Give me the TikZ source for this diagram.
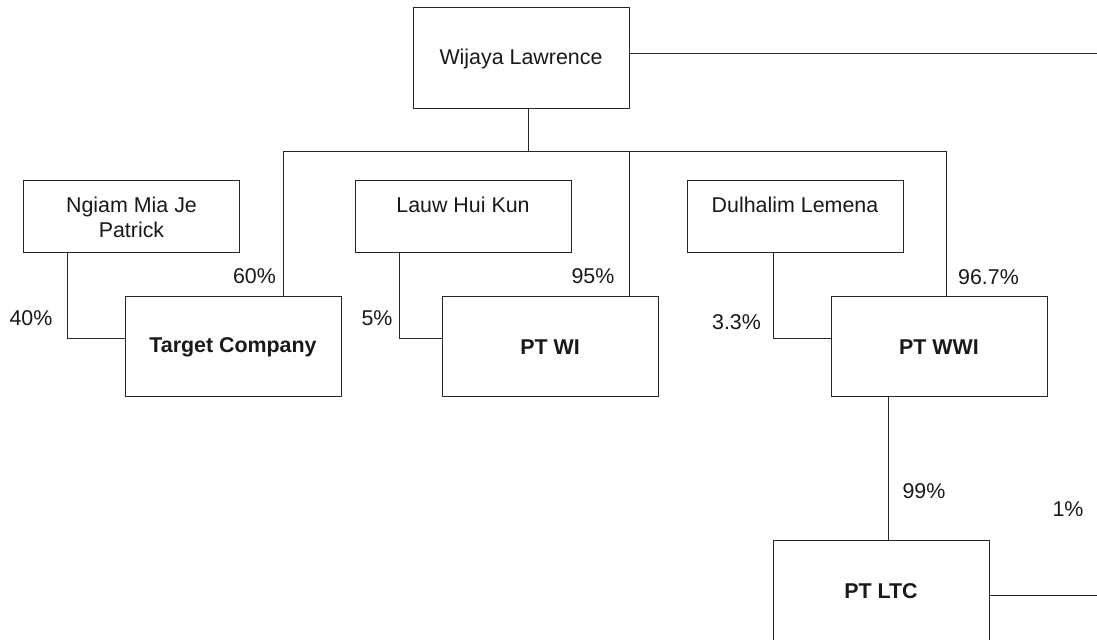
\documentclass[tikz,border=0pt]{standalone}
\usepackage{fontspec}
\setmainfont{Liberation Sans}
\begin{document}
\begin{tikzpicture}[x=0.5pt,y=-0.5pt,black!85,line width=.5pt,
  font=\fontsize{10.7}{12.5}\selectfont,
  owner/.style={draw,text=black!90,minimum width=108pt,minimum height=36pt,align=center,inner sep=0pt},
  firm/.style={draw,text=black!90,minimum width=108pt,minimum height=50pt,align=center,inner sep=0pt,font=\fontsize{10.7}{12.5}\selectfont\bfseries},
  share/.style={text=black!90,inner sep=0pt}]
\useasboundingbox (0,0) rectangle (1097,640);
% owners
\node[firm,font=\fontsize{10.7}{12.5}\selectfont,minimum height=50.5pt] (wl) at (521,58.5) {Wijaya Lawrence};
\node[owner] (ngiam) at (131.5,217) {Ngiam Mia Je\\Patrick};
\node[owner] (lauw) at (463,217) {Lauw Hui Kun\\\phantom{Patrick}};
\node[owner] (dul) at (795,217) {Dulhalim Lemena\\\phantom{Patrick}};
% companies
\node[firm] (tc) at (233,347) {Target Company};
\node[firm] (wi) at (550,347) {PT WI};
\node[firm] (wwi) at (939,347) {PT WWI};
\node[firm] (ltc) at (881,591) {PT LTC};
% bus from Wijaya Lawrence
\coordinate (bus) at (528,152);
\coordinate (busL) at (283,152);
\coordinate (busM) at (629,152);
\coordinate (busR) at (946,152);
\draw (bus |- wl.south) -- (bus);
\draw (busL |- tc.north) -- (busL) -- (busR) -- (busR |- wwi.north);
\draw (busM) -- (busM |- wi.north);
\coordinate (eW) at (1097,54);
\draw (eW -| wl.east) -- (eW);
% minority holders
\coordinate (kn) at (67,339);
\draw (kn |- ngiam.south) -- (kn) -- (kn -| tc.west);
\coordinate (kl) at (399,339);
\draw (kl |- lauw.south) -- (kl) -- (kl -| wi.west);
\coordinate (kd) at (773,339);
\draw (kd |- dul.south) -- (kd) -- (kd -| wwi.west);
% PT WWI to PT LTC
\coordinate (kw) at (888,470);
\draw (kw |- wwi.south) -- (kw |- ltc.north);
\coordinate (eL) at (1097,595);
\draw (eL -| ltc.east) -- (eL);
% percentages
\node[share] (p60) at (254.5,276) {60\%};
\node[share] (p40) at (31,318) {40\%};
\node[share] (p95) at (593,276) {95\%};
\node[share] (p5) at (377,318) {5\%};
\node[share] (p967) at (988.5,277) {96.7\%};
\node[share] (p33) at (736.5,322) {3.3\%};
\node[share] (p99) at (924,491) {99\%};
\node[share] (p1) at (1068,509) {1\%};
\end{tikzpicture}
\end{document}
